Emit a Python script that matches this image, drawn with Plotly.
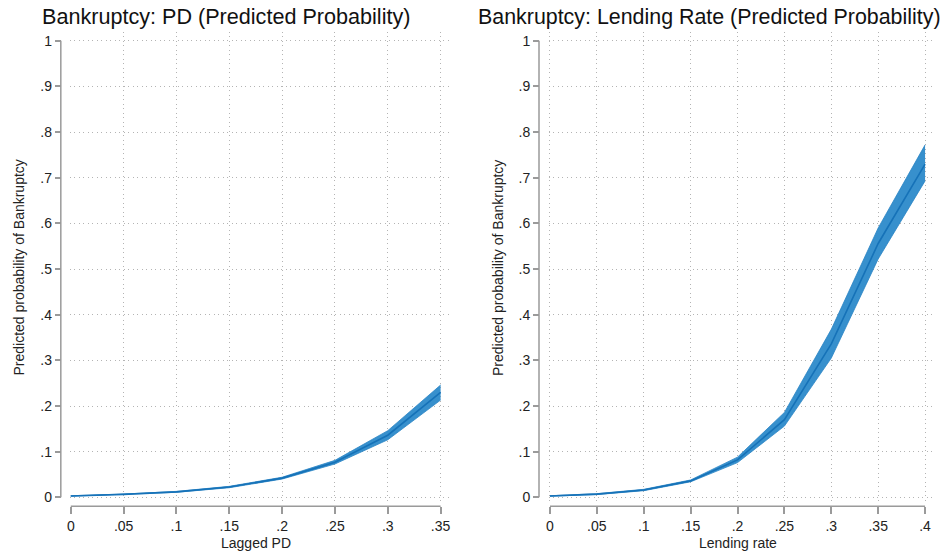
import plotly.graph_objects as go

W, H = 948, 559

# ---- data ----
pd_x = [0, 0.05, 0.10, 0.15, 0.20, 0.25, 0.30, 0.35]
pd_mid = [0.003, 0.0065, 0.012, 0.0225, 0.042, 0.077, 0.136, 0.230]
pd_lo = [0.0025, 0.006, 0.011, 0.021, 0.040, 0.073, 0.126, 0.213]
pd_hi = [0.0035, 0.007, 0.013, 0.024, 0.044, 0.081, 0.146, 0.246]

lr_x = [0, 0.05, 0.10, 0.15, 0.20, 0.25, 0.30, 0.35, 0.40]
lr_mid = [0.003, 0.007, 0.016, 0.036, 0.082, 0.170, 0.336, 0.556, 0.730]
lr_lo = [0.0025, 0.006, 0.0145, 0.034, 0.076, 0.156, 0.305, 0.522, 0.693]
lr_hi = [0.0035, 0.008, 0.0175, 0.038, 0.088, 0.186, 0.368, 0.590, 0.772]

pd_ticks = [0, 0.05, 0.10, 0.15, 0.20, 0.25, 0.30, 0.35]
pd_ticklabels = ["0", ".05", ".1", ".15", ".2", ".25", ".3", ".35"]
lr_ticks = [0, 0.05, 0.10, 0.15, 0.20, 0.25, 0.30, 0.35, 0.40]
lr_ticklabels = ["0", ".05", ".1", ".15", ".2", ".25", ".3", ".35", ".4"]
y_ticks = [0, 0.1, 0.2, 0.3, 0.4, 0.5, 0.6, 0.7, 0.8, 0.9, 1.0]
y_ticklabels = ["0", ".1", ".2", ".3", ".4", ".5", ".6", ".7", ".8", ".9", "1"]

titles = ["Bankruptcy: PD (Predicted Probability)",
          "Bankruptcy: Lending Rate (Predicted Probability)"]
xtitles = ["Lagged PD", "Lending rate"]
ytitle = "Predicted probability of Bankruptcy"

FONT = "Liberation Sans, Arial, sans-serif"
FILL = "#3790cd"
EDGE = "#2a84c4"
LINE = "#1672b8"
AXC = "#9a9a9a"
GRID = "#b4b4b4"


def px(x):
    return x / W


def py(y):
    return 1 - y / H


fig = go.Figure()

panels = [
    dict(x=pd_x, lo=pd_lo, mid=pd_mid, hi=pd_hi, xa="x", ya="y"),
    dict(x=lr_x, lo=lr_lo, mid=lr_mid, hi=lr_hi, xa="x2", ya="y2"),
]
for p in panels:
    fig.add_trace(go.Scatter(x=p["x"], y=p["lo"], mode="lines",
                             line=dict(color=EDGE, width=0.8),
                             xaxis=p["xa"], yaxis=p["ya"], showlegend=False,
                             hoverinfo="skip"))
    fig.add_trace(go.Scatter(x=p["x"], y=p["hi"], mode="lines",
                             line=dict(color=EDGE, width=0.8),
                             fill="tonexty", fillcolor=FILL,
                             xaxis=p["xa"], yaxis=p["ya"], showlegend=False,
                             hoverinfo="skip"))
    fig.add_trace(go.Scatter(x=p["x"], y=p["mid"], mode="lines",
                             line=dict(color=LINE, width=1.6),
                             xaxis=p["xa"], yaxis=p["ya"], showlegend=False))

# vertical geometry (pixels)
y0_px, y1_px = 500, 41
unit = y0_px - y1_px
ytop_px, ybot_px = 32, 505
yrange = [-(ybot_px - y0_px) / unit, 1 + (y1_px - ytop_px) / unit]
xline_px = 509

GRIDDASH = "1px,3.5px"
common_x = dict(anchor="free", position=py(xline_px), showline=False,
                zeroline=False, showgrid=True, gridcolor=GRID, griddash=GRIDDASH,
                gridwidth=1, ticks="outside", ticklen=7, tickcolor=AXC,
                tickwidth=1.5, tickfont=dict(size=14, color="#222", family=FONT))
common_y = dict(showline=False, zeroline=False, showgrid=True,
                gridcolor=GRID, griddash=GRIDDASH, gridwidth=1,
                ticks="outside", ticklen=6, tickcolor=AXC, tickwidth=1.5,
                tickvals=y_ticks, ticktext=y_ticklabels, range=yrange,
                domain=[py(ybot_px), py(ytop_px)],
                tickfont=dict(size=14, color="#222", family=FONT))

# left panel: 0 at 68, .35 at 439, grid to 449
l0, l1, lend, lstart = 68, 439, 449, 67
lscale = (l1 - l0) / 0.35
# right panel: 0 at 548.7, .4 at 925, grid to 933
r0, r1, rend, rstart = 548.7, 925, 933, 547.5
rscale = (r1 - r0) / 0.40

fig.update_layout(
    xaxis=dict(**common_x, domain=[px(lstart), px(lend)],
               range=[-(l0 - lstart) / lscale, 0.35 + (lend - l1) / lscale],
               tickvals=pd_ticks, ticktext=pd_ticklabels),
    yaxis=dict(**common_y, anchor="free", position=px(58)),
    xaxis2=dict(**common_x, domain=[px(rstart), px(rend)],
                range=[-(r0 - rstart) / rscale, 0.40 + (rend - r1) / rscale],
                tickvals=lr_ticks, ticktext=lr_ticklabels),
    yaxis2=dict(**common_y, anchor="free", position=px(537.7)),
)

shapes = []
# axis lines
for xa, xmax in [("x", 0.35), ("x2", 0.40)]:
    shapes.append(dict(type="line", xref=xa, yref="paper", x0=0, x1=xmax,
                       y0=py(xline_px), y1=py(xline_px),
                       line=dict(color=AXC, width=1.5)))
for ya, xlpx in [("y", 58), ("y2", 537.7)]:
    shapes.append(dict(type="line", xref="paper", yref=ya, x0=px(xlpx),
                       x1=px(xlpx), y0=0, y1=1,
                       line=dict(color=AXC, width=1.5)))

annotations = [
    dict(text=titles[0], x=px(37), y=py(17), xref="paper", yref="paper",
         xanchor="left", yanchor="middle", showarrow=False,
         font=dict(size=21.6, color="#111", family=FONT)),
    dict(text=titles[1], x=px(474), y=py(17), xref="paper", yref="paper",
         xanchor="left", yanchor="middle", showarrow=False,
         font=dict(size=21.4, color="#111", family=FONT)),
    dict(text=xtitles[0], x=px(254), y=py(546), xref="paper", yref="paper",
         xanchor="center", yanchor="middle", showarrow=False,
         font=dict(size=14, color="#222", family=FONT)),
    dict(text=xtitles[1], x=px(737), y=py(546), xref="paper", yref="paper",
         xanchor="center", yanchor="middle", showarrow=False,
         font=dict(size=14, color="#222", family=FONT)),
    dict(text=ytitle, x=px(16), y=py(269), xref="paper", yref="paper",
         xanchor="center", yanchor="middle", showarrow=False, textangle=-90,
         font=dict(size=14, color="#222", family=FONT)),
    dict(text=ytitle, x=px(496), y=py(269), xref="paper", yref="paper",
         xanchor="center", yanchor="middle", showarrow=False, textangle=-90,
         font=dict(size=14, color="#222", family=FONT)),
]

fig.update_layout(
    width=W, height=H,
    margin=dict(l=0, r=0, t=0, b=0, pad=0),
    paper_bgcolor="white", plot_bgcolor="white",
    shapes=shapes, annotations=annotations,
    font=dict(family=FONT),
)

fig.write_html(
    "out.html",
    config={"displayModeBar": False},
    post_script="document.body.style.margin='0';"
                "document.body.style.overflow='hidden';",
)
